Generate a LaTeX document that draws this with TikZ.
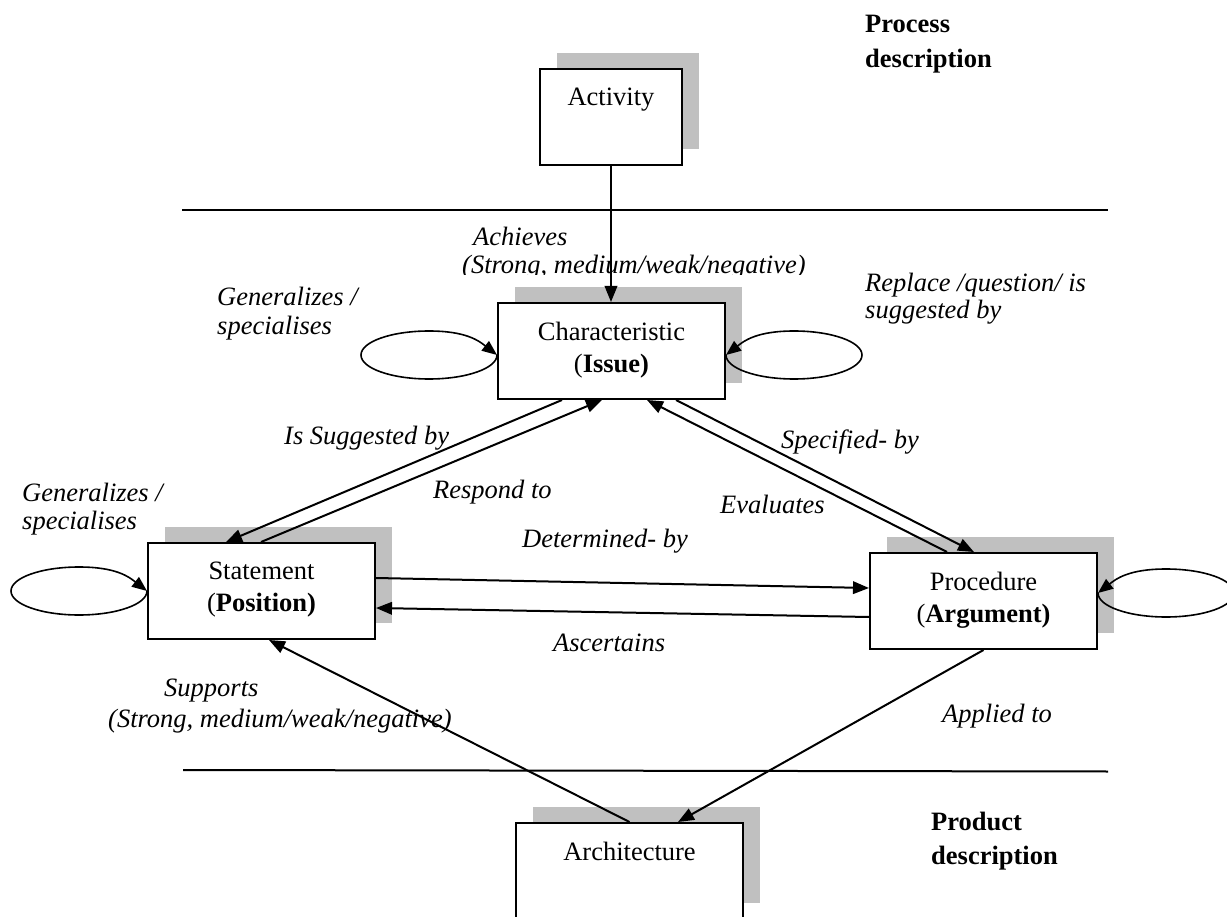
\documentclass[tikz,border=0pt]{standalone}
\usepackage{fontspec}
\setmainfont{Liberation Serif}
\usetikzlibrary{arrows.meta,shadows}
\definecolor{shadowgray}{RGB}{192,192,192}

\tikzset{
  box/.style={draw=black, line width=2pt, fill=white, inner sep=0pt,
    minimum width=227pt, minimum height=96pt,
    general shadow={fill=shadowgray, shadow xshift=16.5pt, shadow yshift=16pt}},
  boxtext/.style={font=\fontsize{26.5}{31.8}\selectfont, align=center,
    inner sep=0pt, anchor=north},
  lbl/.style={font=\fontsize{26.5}{28}\selectfont\itshape, align=left,
    inner sep=0pt, anchor=base west},
  heading/.style={font=\fontsize{26.5}{34.5}\selectfont\bfseries, align=left,
    inner sep=0pt, anchor=base west},
  link/.style={line width=2pt, -{Triangle[length=16pt,width=12.5pt]}},
  selfloop/.style={line width=1.6pt, -{Triangle[length=15pt,width=12pt]}},
  separator/.style={line width=2pt},
  % elliptic self loop left of a box: leaves its west side downwards, returns from above
  wselfloop/.style={insert path={
    .. controls +(0,-13.3) and +(37.5,0) .. ++(-68,-24)
    .. controls +(-37.5,0) and +(0,-13.3) .. ++(-68,24)
    .. controls +(0,13.3) and +(-37.5,0) .. ++(68,24)
    .. controls +(37.5,0) and +(-18,14) .. ++(68,-24)}},
  % the same loop mirrored, on the east side of a box
  eselfloop/.style={insert path={
    .. controls +(0,-13.3) and +(-37.5,0) .. ++(68,-24)
    .. controls +(37.5,0) and +(0,-13.3) .. ++(68,24)
    .. controls +(0,13.3) and +(37.5,0) .. ++(-68,24)
    .. controls +(-37.5,0) and +(18,14) .. ++(-68,-24)}},
}

\begin{document}
\begin{tikzpicture}[x=1pt,y=1pt]
\useasboundingbox (0,0) rectangle (1227,-917);
\clip (0,0) rectangle (1227,-917);

% separators between process level, design rationale and product level
\coordinate (topL) at (182,-210);
\coordinate (topR) at (1108,-210);
\coordinate (botL) at (183,-770);
\coordinate (botR) at (1108,-771.5);
\draw[separator] (topL) -- (topR);
\draw[separator] (botL) -- (botR);

% boxes
\node[box, minimum width=142pt] (act) at (611,-117) {};
\node[box] (char) at (611.5,-351) {};
\node[box] (stmt) at (261.5,-591) {};
\node[box] (proc) at (983.5,-601) {};
\node[box] (arch) at (629.5,-871) {};

\node[boxtext] (act-t)  at ([yshift=-20pt]act.north)  {Activity};
\node[boxtext] (char-t) at ([yshift=-20pt]char.north) {Characteristic\\(\textbf{Issue)}};
\node[boxtext] (stmt-t) at ([yshift=-20pt]stmt.north) {Statement\\(\textbf{Position)}};
\node[boxtext] (proc-t) at ([yshift=-20pt]proc.north) {Procedure\\(\textbf{Argument)}};
\node[boxtext] (arch-t) at ([yshift=-20pt]arch.north) {Architecture};

% level headings (placed by the baseline of their last line)
\node[heading] (proc-d) at (865,-67.5)  {Process\\description};
\node[heading] (prod-d) at (931,-864.5) {Product\\description};

% relation labels (placed by the baseline of their last line)
\node[lbl] (gen-c) at (217,-335) {Generalizes /\\[1pt]specialises};
\node[lbl] (gen-s) at (22,-529)  {Generalizes /\\specialises};
\node[lbl] (repl)  at (865,-319) {Replace /question/ is\\[-1pt]suggested by};
\begin{scope}
  \clip (0,-200) rectangle (1227,-274.5);
  \node[lbl] (achv) at (462,-274) {\hspace*{11pt}Achieves\\(Strong, medium/weak/negative)};
\end{scope}
\node[lbl] (sugg) at (284,-444) {Is Suggested by};
\node[lbl] (resp) at (433,-498) {Respond to};
\node[lbl] (spec) at (781,-448) {Specified- by};
\node[lbl] (eval) at (720,-513) {Evaluates};
\node[lbl] (detm) at (522,-547) {Determined- by};
\node[lbl] (asct) at (553,-651) {Ascertains};
\node[lbl] (supp) at (108,-727) {\hspace*{56pt}Supports\\[3pt](Strong, medium/weak/negative)};
\node[lbl] (appl) at (942,-722) {Applied to};

% relations between the boxes
\draw[link] (act.south) -- (act.south |- char.north);
\draw[link] ([xshift=65pt]char.south west) -- ([xshift=79pt]stmt.north west);
\draw[link] ([xshift=114pt]stmt.north west) -- ([xshift=105pt]char.south west);
\draw[link] ([xshift=78pt]proc.north west) -- ([xshift=150pt]char.south west);
\draw[link] ([xshift=179pt]char.south west) -- ([xshift=105pt]proc.north west);
\draw[link] ([yshift=13pt]stmt.east) -- ([yshift=13pt]proc.west);
\draw[link] ([yshift=-16pt]proc.west) -- ([yshift=-17pt]stmt.east);
\draw[link] (arch.north) -- ([xshift=122pt]stmt.south west);
\draw[link] (proc.south) -- ([xshift=163pt]arch.north west);

% self relations
\coordinate (char-w) at ([yshift=-4pt]char.west);
\coordinate (char-e) at ([yshift=-4pt]char.east);
\coordinate (stmt-w) at (stmt.west);
\coordinate (proc-e) at ([yshift=8pt]proc.east);
\draw[selfloop] (char-w) [wselfloop];
\draw[selfloop] (char-e) [eselfloop];
\draw[selfloop] (stmt-w) [wselfloop];
\draw[selfloop] (proc-e) [eselfloop];
\end{tikzpicture}
\end{document}
